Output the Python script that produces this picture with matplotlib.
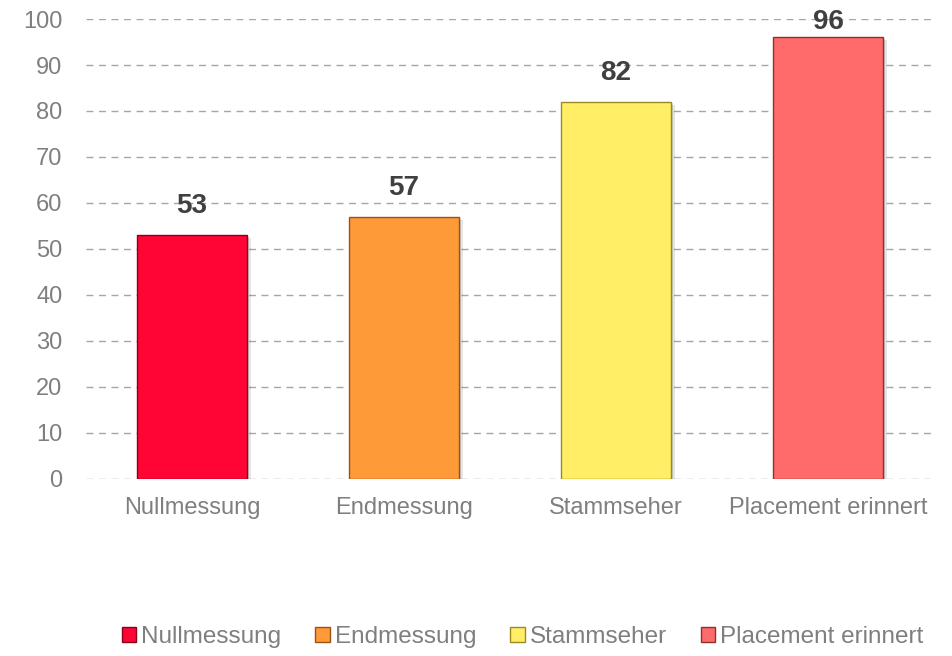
import matplotlib
matplotlib.use("Agg")
import matplotlib.pyplot as plt
import matplotlib.patheffects as pe
from matplotlib.patches import Patch

categories = ["Nullmessung", "Endmessung", "Stammseher", "Placement erinnert"]
values = [53, 57, 82, 96]
colors = ["#FF0536", "#FF9A38", "#FFEE66", "#FF6B6B"]
edges = ["#8A0018", "#9A5215", "#9A8A20", "#8F3030"]
yticks = list(range(0, 101, 10))

plt.rcParams['font.family'] = ['Liberation Sans', 'DejaVu Sans']

fig = plt.figure(figsize=(9.52, 6.56), dpi=100)
ax = fig.add_axes([0.0903, 0.270, 0.891, 0.701])

x = list(range(len(categories)))
bars = ax.bar(x, values, width=0.52, color=colors, edgecolor=edges, linewidth=1.0, zorder=3)
for b in bars:
    b.set_path_effects([pe.SimplePatchShadow(offset=(3, -2), shadow_rgbFace="#000000", alpha=0.10),
                        pe.SimplePatchShadow(offset=(1.5, -1), shadow_rgbFace="#000000", alpha=0.12),
                        pe.Normal()])

for xi, v in zip(x, values):
    ax.text(xi, min(v + 6.3, 99.3), str(v), ha="center", va="center",
            fontsize=20, fontweight="bold", color="#404040", zorder=4)

ax.set_xlim(-0.5, len(categories) - 0.5)
ax.set_ylim(0, 100)
ax.set_yticks(yticks)
ax.set_xticks(x)
ax.set_xticklabels(categories)
ax.tick_params(axis="both", length=0, labelsize=17, colors="#7F7F7F")
ax.tick_params(axis="x", pad=13)
ax.tick_params(axis="y", pad=17)
ax.yaxis.grid(True, linestyle=(0, (5, 4)), color="#A6A6A6", linewidth=1, zorder=0)
ax.set_axisbelow(True)
for s in ax.spines.values():
    s.set_visible(False)

handles = [Patch(facecolor=c, edgecolor=e, linewidth=1) for c, e in zip(colors, edges)]
fig.legend(handles, categories, loc="center", bbox_to_anchor=(0.549, 0.029), ncol=4,
           frameon=False, fontsize=17.5, labelcolor="#7F7F7F", handlelength=0.6,
           handleheight=0.6, handletextpad=0.2, columnspacing=1.4)

fig.savefig("out.png", dpi=100)
